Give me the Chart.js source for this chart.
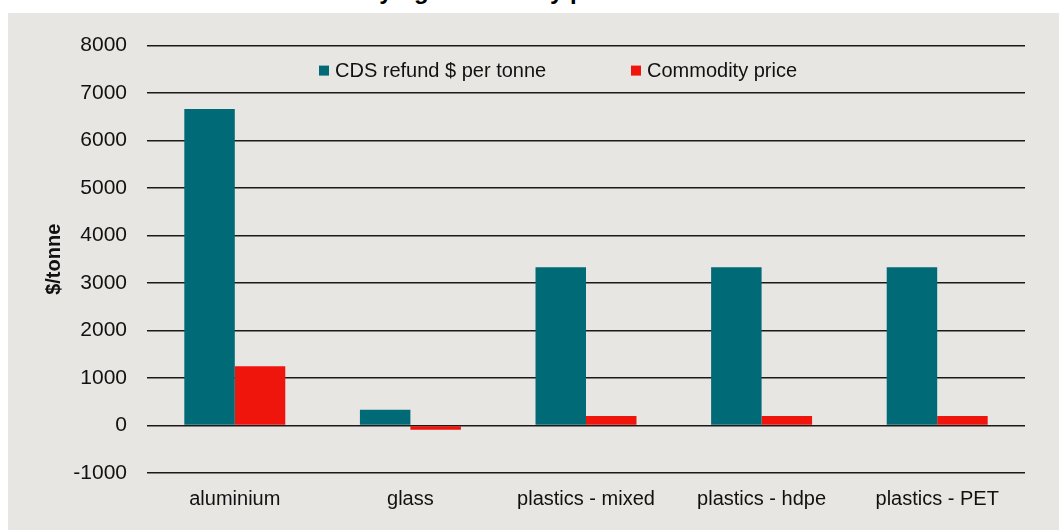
<!DOCTYPE html>
<html>
<head>
<meta charset="utf-8">
<script src="https://cdn.jsdelivr.net/npm/chart.js@4.4.1/dist/chart.umd.min.js"></script>
<style>
  html, body { margin: 0; padding: 0; background: #fff; }
  body { width: 1059px; height: 530px; position: relative; overflow: hidden; }
  #title {
    position: absolute; left: 134px; top: -21px;
    font: bold 24px "Liberation Sans", Arial, sans-serif; line-height: 24px;
    color: #000; white-space: nowrap;
  }
  #frame {
    position: absolute; left: 8px; top: 13px; width: 1051px; height: 517px;
    background: #e8e6e2;
  }
  #frame canvas { display: block; }
</style>
</head>
<body>
<div id="title">CDS refund vs underlying commodity prices</div>
<div id="frame"><canvas id="chart" width="1051" height="517"></canvas></div>
<script>
(() => {
  "use strict";

// Data
const categories = ["aluminium", "glass", "plastics - mixed", "plastics - hdpe", "plastics - PET"];
const cdsRefund = [6667, 333, 3333, 3333, 3333];
const commodityPrice = [1250, -90, 200, 200, 200];
const yTicks = [-1000, 0, 1000, 2000, 3000, 4000, 5000, 6000, 7000, 8000];

const TEAL = "#006b77";
const RED = "#ef140c";
const FONT = '"Liberation Sans", Arial, sans-serif';

// legend drawn inside the plot area, like the original
const innerLegend = {
  id: "innerLegend",
  afterDraw(chart) {
    const { ctx, chartArea } = chart;
    const spots = [172, 484];
    ctx.save();
    ctx.font = `20px ${FONT}`;
    ctx.textBaseline = "middle";
    ctx.textAlign = "left";
    chart.data.datasets.forEach((ds, i) => {
      const x = chartArea.left + spots[i];
      const y = chartArea.top + 25;
      ctx.fillStyle = ds.backgroundColor;
      ctx.fillRect(x, y - 5, 10, 10);
      ctx.fillStyle = "#111";
      ctx.fillText(ds.label, x + 16, y + 1);
    });
    ctx.restore();
  }
};

const ctx = document.getElementById("chart");

new Chart(ctx, {
  type: "bar",
  data: {
    labels: categories,
    datasets: [
      { label: "CDS refund $ per tonne", data: cdsRefund, backgroundColor: TEAL },
      { label: "Commodity price", data: commodityPrice, backgroundColor: RED }
    ]
  },
  options: {
    responsive: false,
    animation: false,
    layout: { padding: { top: 31, right: 34, left: 0, bottom: 0 } },
    datasets: { bar: { categoryPercentage: 0.575, barPercentage: 1 } },
    plugins: { legend: { display: false }, tooltip: { enabled: false } },
    scales: {
      x: {
        grid: { display: false, drawTicks: false },
        border: { display: false },
        ticks: { color: "#111", font: { family: FONT, size: 20 }, padding: 14, maxRotation: 0 },
        afterFit: (s) => { s.height = 57; }
      },
      y: {
        min: -1000,
        max: 8000,
        afterBuildTicks: (s) => { s.ticks = yTicks.map(v => ({ value: v })); },
        grid: { color: "#1a1a1a", lineWidth: 1.6, drawTicks: false },
        border: { display: false },
        ticks: {
          color: "#111", font: { family: FONT, size: 21 }, padding: 20,
          callback: (v) => String(v)
        },
        title: {
          display: true, text: "$/tonne", color: "#111",
          font: { family: FONT, size: 20, weight: "bold" },
          padding: { top: 34, bottom: 0 }
        },
        afterFit: (s) => { s.width = 139; }
      }
    }
  },
  plugins: [innerLegend]
});
})();
</script>
</body>
</html>
